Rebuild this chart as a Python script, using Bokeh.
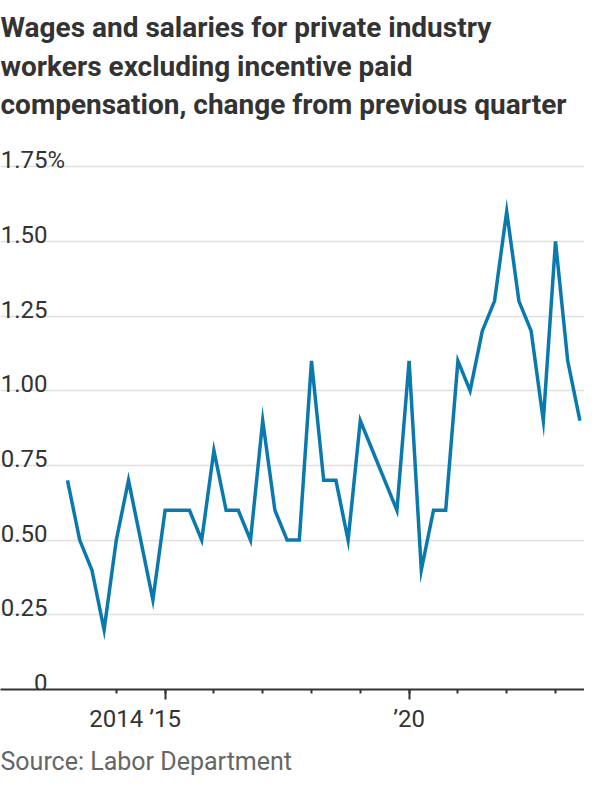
from bokeh.plotting import figure
from bokeh.models import FixedTicker, Label, Title, ColumnDataSource
from bokeh.core.properties import value
from bokeh.embed import file_html
from bokeh.resources import INLINE

# ---- data ----
periods = [f"{y} Q{q}" for y in range(2013, 2024) for q in range(1, 5)][:43]
values = [0.7, 0.5, 0.4, 0.2, 0.5, 0.7, 0.5, 0.3,
          0.6, 0.6, 0.6, 0.5, 0.8, 0.6, 0.6, 0.5,
          0.9, 0.6, 0.5, 0.5, 1.1, 0.7, 0.7, 0.5,
          0.9, 0.8, 0.7, 0.6, 1.1, 0.4, 0.6, 0.6,
          1.1, 1.0, 1.2, 1.3, 1.6, 1.3, 1.2, 0.9,
          1.5, 1.1, 0.9]
y_ticks = [0, 0.25, 0.5, 0.75, 1.0, 1.25, 1.5, 1.75]
y_labels = ["0", "0.25", "0.50", "0.75", "1.00", "1.25", "1.50", "1.75"]
x_year_ticks = list(range(2014, 2024))
x_labels = {2014: "2014", 2015: "\u201915", 2020: "\u201920"}
title_lines = ["Wages and salaries for private industry",
               "workers excluding incentive paid",
               "compensation, change from previous quarter"]
source_text = "Source: Labor Department"

x = [int(s[:4]) + (int(s[-1]) - 1) / 4 for s in periods]

BLUE = "#0a7aae"
DARK = "#333333"
FONT = "Roboto"

X0, X1 = 2011.627, 2023.594
Y1 = 2.306
p = figure(width=584, height=784, output_backend="svg", toolbar_location=None,
           x_range=(X0, X1), y_range=(0, Y1),
           min_border_left=0, min_border_right=0, min_border_top=0, min_border_bottom=0)
p.outline_line_color = None
p.background_fill_color = "white"
p.border_fill_color = "white"

# grid
p.xgrid.visible = False
p.ygrid.ticker = FixedTicker(ticks=y_ticks[1:])
p.ygrid.grid_line_color = "#e0e0e0"
p.ygrid.grid_line_width = 1.5
p.yaxis.visible = False

# line
p.line(x, values, line_color=BLUE, line_width=3.5, line_join="miter")

# y labels
ysrc = ColumnDataSource(dict(x=[X0] * len(y_ticks), y=y_ticks, t=y_labels))
p.text(x="x", y="y", text="t", source=ysrc, text_align="right", text_baseline="alphabetic",
       x_offset=47, y_offset=-7, text_font=value(FONT), text_font_size="24px",
       text_color=DARK)
p.text(x=[X0], y=[y_ticks[-1]], text=["%"], text_align="left", text_baseline="alphabetic",
       x_offset=47, y_offset=-7, text_font=value(FONT), text_font_size="24px",
       text_color=DARK)

# x axis
xa = p.xaxis[0]
xa.ticker = FixedTicker(ticks=x_year_ticks, minor_ticks=[2015, 2020])
xa.major_label_overrides = {t: x_labels.get(t, "") for t in x_year_ticks}
xa.axis_line_color = DARK
xa.axis_line_width = 2
xa.major_tick_line_color = DARK
xa.major_tick_line_width = 2
xa.major_tick_in = 0
xa.major_tick_out = 4
xa.minor_tick_line_color = DARK
xa.minor_tick_line_width = 2
xa.minor_tick_in = 0
xa.minor_tick_out = 10
xa.major_label_standoff = 5
xa.major_label_text_font = FONT
xa.major_label_text_font_size = "24px"
xa.major_label_text_color = DARK

# title lines (screen units from frame bottom-left)
for line, ys in zip(title_lines, [662, 623, 585]):
    p.add_layout(Label(x=0, y=ys, x_units="screen", y_units="screen", text=line,
                       text_font=FONT, text_font_size="28px", text_font_style="bold",
                       text_color=DARK, text_align="left", text_baseline="alphabetic"))

p.add_layout(Title(text=source_text, align="left", text_font=FONT, text_font_size="25px",
                   text_font_style="normal", text_color="#666666", text_line_height=0.7,
                   standoff=18), "below")

open("out.html", "w").write(file_html(p, INLINE))
